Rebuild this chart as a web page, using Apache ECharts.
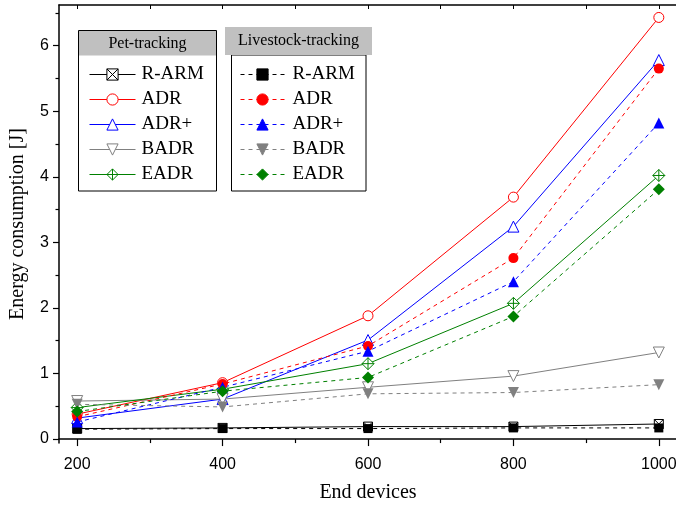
<!DOCTYPE html>
<html>
<head>
<meta charset="utf-8">
<script src="https://cdn.jsdelivr.net/npm/echarts@6/dist/echarts.min.js"></script>
<style>
  html, body { margin: 0; padding: 0; background: #fff; }
  #chart { width: 676px; height: 505px; }
</style>
</head>
<body>
<div id="chart"></div>
<script>
// Number of end devices on the x axis
const devices = [200, 400, 600, 800, 1000];

// Energy consumption [J], pet-tracking scenario (solid lines, open markers)
const petRARM = [0.16, 0.17, 0.19, 0.19, 0.23];
const petADR  = [0.38, 0.86, 1.88, 3.69, 6.43];
const petADRp = [0.32, 0.61, 1.51, 3.24, 5.78];
const petBADR = [0.58, 0.61, 0.79, 0.96, 1.32];
const petEADR = [0.48, 0.76, 1.15, 2.07, 4.02];

// Energy consumption [J], livestock-tracking scenario (dashed lines, filled markers)
const lsRARM = [0.15, 0.16, 0.16, 0.17, 0.17];
const lsADR  = [0.34, 0.84, 1.42, 2.76, 5.65];
const lsADRp = [0.26, 0.79, 1.34, 2.40, 4.82];
const lsBADR = [0.53, 0.49, 0.69, 0.71, 0.83];
const lsEADR = [0.42, 0.73, 0.94, 1.87, 3.81];

// Axis tick labels
const xLabels = [200, 400, 600, 800, 1000];
const xMinor = [300, 500, 700, 900];
const yLabels = [0, 1, 2, 3, 4, 5, 6];
const yMinor = [0.5, 1.5, 2.5, 3.5, 4.5, 5.5, 6.5];

const SERIF = '"Liberation Serif", "Times New Roman", serif';
const SANS = '"Liberation Sans", Arial, sans-serif';

const SQ_X = 'path://M0,0L10,0L10,10L0,10ZM0,0L10,10M10,0L0,10';
const DIAMOND_CROSS = 'path://M5,0L10,5L5,10L0,5ZM5,0L5,10M0,5L10,5';
const DIAMOND = 'path://M5,0L10,5L5,10L0,5Z';

function pairs(vals) { return devices.map((d, i) => [d, vals[i]]); }

function series(name, vals, color, symbol, size, open, dashed, rotate) {
  return {
    name: name,
    type: 'line',
    data: pairs(vals),
    symbol: symbol,
    symbolSize: size,
    symbolRotate: rotate || 0,
    showAllSymbol: true,
    lineStyle: { color: color, width: 1, type: dashed ? [4, 4] : 'solid' },
    itemStyle: open
      ? { color: '#ffffff', borderColor: color, borderWidth: 1 }
      : { color: color, borderColor: color, borderWidth: 0 },
    emphasis: { disabled: true },
    z: dashed ? 3 : 2
  };
}

const allSeries = [
  series('pet:R-ARM', petRARM, '#000000', SQ_X, 9, true, false),
  series('pet:ADR', petADR, '#ff0000', 'circle', 10, true, false),
  series('pet:ADR+', petADRp, '#0000ff', 'triangle', 11, true, false),
  series('pet:BADR', petBADR, '#808080', 'triangle', 11, true, false, 180),
  series('pet:EADR', petEADR, '#008000', DIAMOND_CROSS, 12, true, false),
  series('ls:R-ARM', lsRARM, '#000000', 'rect', 9, false, true),
  series('ls:ADR', lsADR, '#ff0000', 'circle', 10, false, true),
  series('ls:ADR+', lsADRp, '#0000ff', 'triangle', 11, false, true),
  series('ls:BADR', lsBADR, '#808080', 'triangle', 11, false, true, 180),
  series('ls:EADR', lsEADR, '#008000', DIAMOND, 12, false, true)
];

const axisLineStyle = { color: '#000', width: 1.5 };

function legendBlock(prefix, left, itemWidth, textGap) {
  return {
    data: allSeries.filter(s => s.name.startsWith(prefix + ':')).map(s => s.name),
    orient: 'vertical',
    left: left,
    top: 65,
    padding: 0,
    itemWidth: itemWidth,
    itemHeight: 14,
    itemGap: 6,
    selectedMode: false,
    formatter: n => n.split(':')[1],
    itemStyle: { borderWidth: 1 },
    lineStyle: { width: 1 },
    textStyle: { fontFamily: SERIF, fontSize: 19, color: '#000', padding: [0, 0, 0, textGap - 5] }
  };
}

const option = {
  animation: false,
  backgroundColor: '#ffffff',
  grid: { left: 59, top: 5, width: 618, height: 438, containLabel: false, outerBoundsMode: 'none' },
  xAxis: [
    {
      type: 'value', min: 175, max: 1025, position: 'bottom',
      name: 'End devices', nameLocation: 'middle', nameGap: 40,
      nameTextStyle: { fontFamily: SERIF, fontSize: 20, color: '#000' },
      axisLine: { show: true, lineStyle: axisLineStyle },
      axisTick: { show: true, length: 7, inside: false, lineStyle: { color: '#000', width: 1.2 }, customValues: xLabels },
      axisLabel: { customValues: xLabels, formatter: v => String(v), fontFamily: SANS, fontSize: 16, color: '#000', margin: 14 },
      splitLine: { show: false }
    },
    {
      type: 'value', min: 175, max: 1025, position: 'bottom',
      axisLine: { show: false },
      axisTick: { show: true, length: 4, lineStyle: { color: '#000', width: 1.2 }, customValues: xMinor },
      axisLabel: { show: false },
      splitLine: { show: false }
    },
    {
      type: 'value', min: 175, max: 1025, position: 'top',
      axisLine: { show: true, onZero: false, lineStyle: axisLineStyle },
      axisTick: { show: true, inside: true, length: 4, lineStyle: { color: '#000', width: 1 }, customValues: xLabels.concat(xMinor) },
      axisLabel: { show: false },
      splitLine: { show: false }
    }
  ],
  yAxis: [
    {
      type: 'value', min: -0.06, max: 6.62, position: 'left',
      name: 'Energy consumption [J]', nameLocation: 'middle', nameGap: 31,
      nameTextStyle: { fontFamily: SERIF, fontSize: 20, color: '#000' },
      axisLine: { show: true, onZero: false, lineStyle: axisLineStyle },
      axisTick: { show: true, length: 6, lineStyle: { color: '#000', width: 1.2 }, customValues: yLabels },
      axisLabel: { customValues: yLabels, fontFamily: SANS, fontSize: 16, color: '#000', margin: 10 },
      splitLine: { show: false }
    },
    {
      type: 'value', min: -0.06, max: 6.62, position: 'left',
      axisLine: { show: false },
      axisTick: { show: true, length: 3.5, lineStyle: { color: '#000', width: 1.2 }, customValues: yMinor },
      axisLabel: { show: false },
      splitLine: { show: false }
    }
  ],
  legend: [
    legendBlock('pet', 89, 46, 6),
    legendBlock('ls', 240, 44, 8)
  ],
  graphic: [
    { type: 'rect', z: 3, shape: { x: 78.5, y: 30.5, width: 138, height: 160.5 },
      style: { fill: '#fff', stroke: '#000', lineWidth: 1 } },
    { type: 'rect', z: 3, shape: { x: 79, y: 31, width: 137, height: 24.5 },
      style: { fill: '#c0c0c0', stroke: null } },
    { type: 'text', z: 5, x: 147.5, y: 43.5,
      style: { text: 'Pet-tracking', font: '16px ' + SERIF, fill: '#000', align: 'center', verticalAlign: 'middle' } },
    { type: 'rect', z: 3, shape: { x: 231.5, y: 55, width: 134.5, height: 136 },
      style: { fill: '#fff', stroke: '#000', lineWidth: 1 } },
    { type: 'rect', z: 3, shape: { x: 225, y: 27, width: 147, height: 28 },
      style: { fill: '#c0c0c0', stroke: null } },
    { type: 'text', z: 5, x: 298.5, y: 41,
      style: { text: 'Livestock-tracking', font: '16px ' + SERIF, fill: '#000', align: 'center', verticalAlign: 'middle' } }
  ],
  series: allSeries
};

const chart = echarts.init(document.getElementById('chart'), null, { renderer: 'canvas' });
chart.setOption(option);
</script>
</body>
</html>
